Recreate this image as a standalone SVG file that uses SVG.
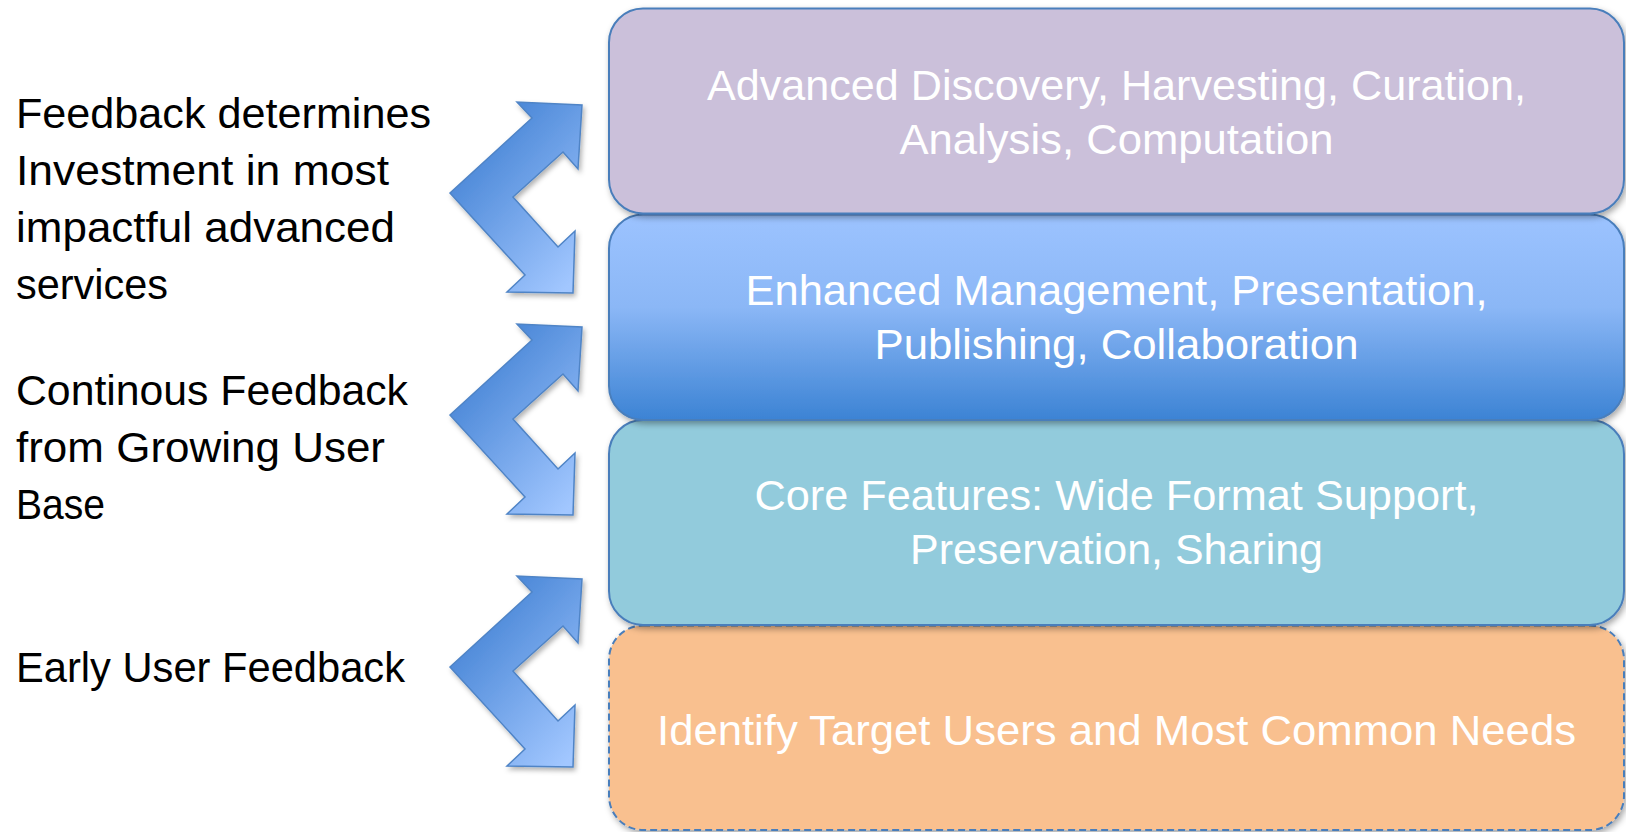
<svg xmlns="http://www.w3.org/2000/svg" width="1626" height="832" viewBox="0 0 1626 832">
<style>
.lbl{font-family:"Liberation Sans",Arial,sans-serif;font-size:43px;fill:#000}
.bx{font-family:"Liberation Sans",Arial,sans-serif;font-size:43px;fill:#fff;text-anchor:middle}
.box{stroke:#4a7ebb;stroke-width:2;filter:url(#sh)}
.arr{fill:url(#ag);stroke:#4f84c6;stroke-width:1.5;stroke-linejoin:miter;filter:url(#sh2)}
</style>
<defs>
<filter id="sh" x="-5%" y="-10%" width="110%" height="125%">
<feDropShadow dx="2" dy="3" stdDeviation="3" flood-color="#000" flood-opacity="0.35"/>
</filter>
<filter id="sh2" x="-10%" y="-10%" width="125%" height="125%">
<feDropShadow dx="2" dy="3" stdDeviation="2.5" flood-color="#000" flood-opacity="0.3"/>
</filter>
<linearGradient id="bg" x1="0" y1="0" x2="0" y2="1">
<stop offset="0" stop-color="#9cc3ff"/>
<stop offset="0.45" stop-color="#8bb7f6"/>
<stop offset="1" stop-color="#3c83d4"/>
</linearGradient>
<linearGradient id="ag" x1="0.15" y1="0.1" x2="0.85" y2="1">
<stop offset="0" stop-color="#3f7fd2"/>
<stop offset="1" stop-color="#a2c7ff"/>
</linearGradient>
<polygon id="arrow" points="582,105 578,169 563,152 513,197 558,247 575,231 573,293 507,292 525,275 450,193 532,118 517,102"/>
</defs>
<rect width="1626" height="832" fill="#fff"/>

<g id="box-identify">
<rect class="box" x="609" y="625.5" width="1015" height="204.5" rx="34" fill="#f9c08f" stroke-dasharray="7 4"/>
<text class="bx" x="1116.5" y="745" textLength="919" lengthAdjust="spacingAndGlyphs">Identify Target Users and Most Common Needs</text>
</g>
<g id="box-core">
<rect class="box" x="609" y="420" width="1015" height="205" rx="34" fill="#92cbdc"/>
<text class="bx" x="1116.5" y="510" textLength="724" lengthAdjust="spacingAndGlyphs">Core Features: Wide Format Support,</text>
<text class="bx" x="1116.5" y="564" textLength="413" lengthAdjust="spacingAndGlyphs">Preservation, Sharing</text>
</g>
<g id="box-enhanced">
<rect class="box" x="609" y="214.5" width="1015" height="205.5" rx="34" fill="url(#bg)"/>
<text class="bx" x="1116.5" y="305" textLength="742" lengthAdjust="spacingAndGlyphs">Enhanced Management, Presentation,</text>
<text class="bx" x="1116.5" y="359" textLength="484" lengthAdjust="spacingAndGlyphs">Publishing, Collaboration</text>
</g>
<g id="box-advanced">
<rect class="box" x="609" y="8.5" width="1015" height="205" rx="34" fill="#cbc0da"/>
<text class="bx" x="1116.5" y="100" textLength="819" lengthAdjust="spacingAndGlyphs">Advanced Discovery, Harvesting, Curation,</text>
<text class="bx" x="1116.5" y="154" textLength="434" lengthAdjust="spacingAndGlyphs">Analysis, Computation</text>
</g>

<g id="connectors">
<use href="#arrow" class="arr"/>
<use href="#arrow" class="arr" transform="translate(0,222)"/>
<use href="#arrow" class="arr" transform="translate(0,474)"/>
</g>

<g id="label-investment">
<text class="lbl" x="16" y="128" textLength="415" lengthAdjust="spacingAndGlyphs">Feedback determines</text>
<text class="lbl" x="16" y="185" textLength="373" lengthAdjust="spacingAndGlyphs">Investment in most</text>
<text class="lbl" x="16" y="242" textLength="379" lengthAdjust="spacingAndGlyphs">impactful advanced</text>
<text class="lbl" x="16" y="299" textLength="152" lengthAdjust="spacingAndGlyphs">services</text>
</g>
<g id="label-continuous">
<text class="lbl" x="16" y="405" textLength="392" lengthAdjust="spacingAndGlyphs">Continous Feedback</text>
<text class="lbl" x="16" y="462" textLength="369" lengthAdjust="spacingAndGlyphs">from Growing User</text>
<text class="lbl" x="16" y="519" textLength="89" lengthAdjust="spacingAndGlyphs">Base</text>
</g>
<g id="label-early">
<text class="lbl" x="16" y="682" textLength="389" lengthAdjust="spacingAndGlyphs">Early User Feedback</text>
</g>
</svg>
